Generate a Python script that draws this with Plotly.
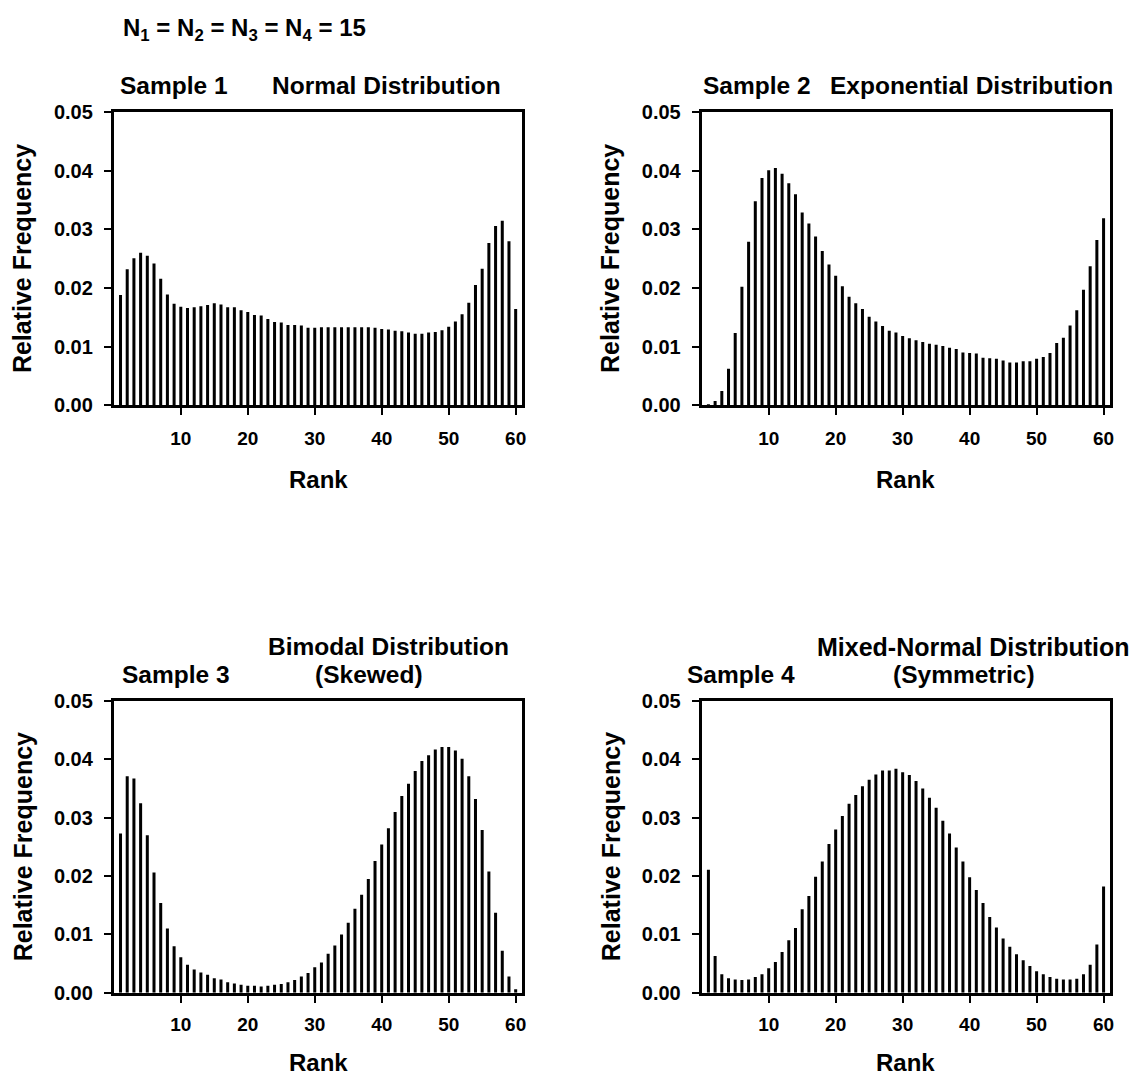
import plotly.graph_objects as go

ranks = list(range(1, 61))

sample1_normal = [
    0.0188, 0.0232, 0.0251, 0.0260, 0.0255, 0.0242, 0.0216, 0.0189, 0.0173, 0.0168,
    0.0166, 0.0167, 0.0169, 0.0171, 0.0174, 0.0172, 0.0167, 0.0167, 0.0162, 0.0159,
    0.0154, 0.0153, 0.0147, 0.0142, 0.0141, 0.0137, 0.0137, 0.0136, 0.0132, 0.0132,
    0.0133, 0.0133, 0.0133, 0.0133, 0.0133, 0.0133, 0.0133, 0.0133, 0.0132, 0.0130,
    0.0129, 0.0127, 0.0126, 0.0124, 0.0122, 0.0122, 0.0124, 0.0125, 0.0128, 0.0134,
    0.0143, 0.0155, 0.0175, 0.0205, 0.0233, 0.0277, 0.0306, 0.0315, 0.0280, 0.0164,
]

sample2_exponential = [
    0.0001, 0.0007, 0.0024, 0.0062, 0.0123, 0.0202, 0.0279, 0.0348, 0.0388, 0.0401,
    0.0405, 0.0395, 0.0379, 0.0360, 0.0329, 0.0310, 0.0288, 0.0263, 0.0240, 0.0221,
    0.0203, 0.0185, 0.0174, 0.0164, 0.0151, 0.0143, 0.0135, 0.0127, 0.0124, 0.0118,
    0.0114, 0.0111, 0.0108, 0.0105, 0.0103, 0.0101, 0.0098, 0.0096, 0.0090, 0.0089,
    0.0088, 0.0081, 0.0080, 0.0079, 0.0076, 0.0073, 0.0073, 0.0075, 0.0075, 0.0079,
    0.0082, 0.0089, 0.0106, 0.0115, 0.0136, 0.0162, 0.0197, 0.0237, 0.0282, 0.0319,
]

sample3_bimodal = [
    0.0273, 0.0371, 0.0367, 0.0325, 0.0270, 0.0206, 0.0154, 0.0110, 0.0080, 0.0061,
    0.0048, 0.0040, 0.0035, 0.0031, 0.0025, 0.0023, 0.0018, 0.0016, 0.0014, 0.0012,
    0.0012, 0.0011, 0.0012, 0.0014, 0.0015, 0.0018, 0.0022, 0.0028, 0.0034, 0.0044,
    0.0052, 0.0067, 0.0081, 0.0100, 0.0120, 0.0144, 0.0168, 0.0195, 0.0226, 0.0254,
    0.0282, 0.0310, 0.0337, 0.0358, 0.0380, 0.0397, 0.0407, 0.0417, 0.0421, 0.0421,
    0.0415, 0.0401, 0.0371, 0.0332, 0.0279, 0.0208, 0.0137, 0.0072, 0.0028, 0.0006,
]

sample4_mixed = [
    0.0211, 0.0063, 0.0032, 0.0025, 0.0023, 0.0022, 0.0023, 0.0027, 0.0032, 0.0042,
    0.0053, 0.0070, 0.0090, 0.0111, 0.0143, 0.0166, 0.0199, 0.0225, 0.0255, 0.0280,
    0.0303, 0.0324, 0.0339, 0.0354, 0.0365, 0.0374, 0.0381, 0.0381, 0.0384, 0.0378,
    0.0373, 0.0363, 0.0350, 0.0334, 0.0317, 0.0295, 0.0273, 0.0249, 0.0225, 0.0198,
    0.0176, 0.0154, 0.0130, 0.0112, 0.0093, 0.0079, 0.0066, 0.0056, 0.0046, 0.0037,
    0.0032, 0.0027, 0.0024, 0.0023, 0.0023, 0.0024, 0.0032, 0.0048, 0.0083, 0.0182,
]

x_tick_vals = [10, 20, 30, 40, 50, 60]
y_tick_vals = [0.00, 0.01, 0.02, 0.03, 0.04, 0.05]
y_tick_text = ["0.00", "0.01", "0.02", "0.03", "0.04", "0.05"]

# figure size and mapping from target picture pixels to figure fractions
X_OFF = 8
Y_OFF, Y_SCALE = 18, 0.982
W, H = 1125, 1090
FONT = "Liberation Sans, Arial, sans-serif"

def px(x):
    return (x - X_OFF) / W

def py(y):
    return 1 - ((y - Y_OFF) / Y_SCALE) / H

# panel frame boxes in picture pixels (left, right, top, bottom)
boxes = [
    (112.7, 525.7, 110.0, 406.0),
    (702.7, 1115.7, 110.0, 406.0),
    (112.7, 525.7, 700.0, 995.0),
    (702.7, 1115.7, 700.0, 995.0),
]
# label offsets below each panel: (tick label standoff, Rank title offset)
label_offsets = [(7, 74), (7, 74), (5, 69), (5, 69)]
series = [sample1_normal, sample2_exponential, sample3_bimodal, sample4_mixed]

fig = go.Figure()
layout = dict(
    width=W, height=H, autosize=False,
    margin=dict(l=0, r=0, t=0, b=0),
    paper_bgcolor="white", plot_bgcolor="white",
    showlegend=False, bargap=0.55,
    font=dict(family=FONT, color="black"),
)

LW = 3
for i, (vals, (l, r, t, b), (stand, _)) in enumerate(zip(series, boxes, label_offsets)):
    n = "" if i == 0 else str(i + 1)
    fig.add_trace(go.Bar(
        x=ranks, y=vals, marker=dict(color="black", line=dict(width=0)),
        xaxis="x" + n, yaxis="y" + n,
    ))
    layout["xaxis" + n] = dict(
        domain=[px(l + 1.5), px(r - 1.5)], range=[0, 61], anchor="y" + n,
        tickvals=x_tick_vals, ticks="outside", ticklen=7, tickwidth=2,
        tickcolor="black", showline=True, linewidth=LW, linecolor="black",
        mirror=True, showgrid=False, zeroline=False,
        tickfont=dict(family=FONT, size=19, weight="bold", color="black"),
        ticklabelstandoff=stand,
    )
    layout["yaxis" + n] = dict(
        domain=[py(b - 1), py(t + 1.5)], range=[0, 0.05], anchor="x" + n,
        tickvals=y_tick_vals, ticktext=y_tick_text, ticks="outside", ticklen=7,
        tickwidth=2, tickcolor="black", showline=True, linewidth=LW,
        linecolor="black", mirror=True, showgrid=False, zeroline=False,
        tickfont=dict(family=FONT, size=20, weight="bold", color="black"),
        ticklabelstandoff=7,
    )

fig.update_layout(**layout)

def ann(text, x, y, size=24.5, anchor="center", angle=0):
    fig.add_annotation(
        text=text, x=px(x), y=py(y), xref="paper", yref="paper",
        xanchor=anchor, yanchor="middle", showarrow=False, textangle=angle,
        font=dict(family=FONT, size=size, weight="bold", color="black"),
    )

ann("N<sub>1</sub> = N<sub>2</sub> = N<sub>3</sub> = N<sub>4</sub> = 15", 121, 29, size=24, anchor="left")

# panel titles
ann("Sample 1", 175, 85)
ann("Normal Distribution", 388, 85)
ann("Sample 2", 760, 85)
ann("Exponential Distribution", 975, 85)
ann("Bimodal Distribution", 390, 647)
ann("Sample 3", 177, 675)
ann("(Skewed)", 370, 675)
ann("Mixed-Normal Distribution", 977, 647, size=25)
ann("Sample 4", 744, 675)
ann("(Symmetric)", 967, 675)

# axis titles
for (l, r, t, b), (_, rank_off) in zip(boxes, label_offsets):
    ann("Rank", (l + r) / 2, b + rank_off, size=24)
    ann("Relative Frequency", l - 90, (t + b) / 2, size=25, angle=-90)

fig.write_html("out.html")
